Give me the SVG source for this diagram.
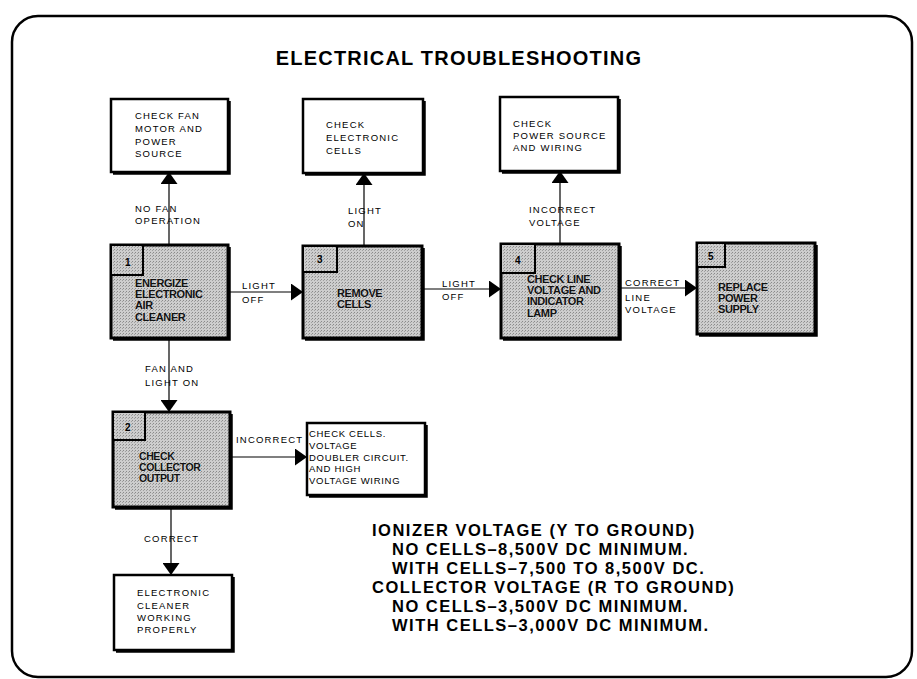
<svg xmlns="http://www.w3.org/2000/svg" width="917" height="679" viewBox="0 0 917 679">
<defs>
<style>
.frame{fill:none;stroke:#000;stroke-width:2.5}
.wbox{fill:#fff;stroke:#000;stroke-width:2.5}
.gbox{fill:url(#dots);stroke:#000;stroke-width:3}
.nbox{fill:url(#dots);stroke:#000;stroke-width:2}
.shadow{fill:none;stroke:#000;stroke-width:2.5}
.conn{fill:none;stroke:#000;stroke-width:1.2}
.t{font-family:"Liberation Sans",Arial,sans-serif;font-size:9.5px;letter-spacing:1.2px;fill:#000}
.b{font-family:"Liberation Sans",Arial,sans-serif;font-size:11px;font-weight:bold;letter-spacing:-0.4px;fill:#111;stroke:#e8e8e8;stroke-width:0.4;paint-order:stroke}
.n{font-family:"Liberation Sans",Arial,sans-serif;font-size:10px;font-weight:bold;fill:#000}
.title{font-family:"Liberation Sans",Arial,sans-serif;font-size:20px;font-weight:bold;letter-spacing:1.2px;fill:#000}
.note{font-family:"Liberation Sans",Arial,sans-serif;font-size:16.5px;font-weight:bold;letter-spacing:1.5px;fill:#000}
</style>
<pattern id="dots" width="3" height="3" patternUnits="userSpaceOnUse">
<rect width="3" height="3" fill="#cdcdcd"/>
<rect x="0" y="0" width="1" height="1" fill="#8a8a8a"/>
<rect x="2" y="1" width="1" height="1" fill="#a0a0a0"/>
</pattern>
<marker id="av" viewBox="0 0 10 10" refX="10" refY="5" markerWidth="12" markerHeight="17" markerUnits="userSpaceOnUse" orient="auto" preserveAspectRatio="none">
<path d="M0,0 L10,5 L0,10 Z" fill="#000"/>
</marker>
</defs>
<rect width="917" height="679" fill="#fff"/>
<rect class="frame" x="12" y="16" width="900" height="661" rx="26" ry="26"/>
<text class="title" x="459" y="65" text-anchor="middle">ELECTRICAL TROUBLESHOOTING</text>

<g id="connectors">
<path class="conn" d="M169,245 V172" marker-end="url(#av)"/>
<path class="conn" d="M364,246 V173" marker-end="url(#av)"/>
<path class="conn" d="M560,244 V171" marker-end="url(#av)"/>
<path class="conn" d="M228,292 H303" marker-end="url(#av)"/>
<path class="conn" d="M422,289 H501" marker-end="url(#av)"/>
<path class="conn" d="M619,288 H697" marker-end="url(#av)"/>
<path class="conn" d="M169,338 V412" marker-end="url(#av)"/>
<path class="conn" d="M230,457 H307" marker-end="url(#av)"/>
<path class="conn" d="M171,507 V575" marker-end="url(#av)"/>
<text class="t" x="135" y="212">NO FAN</text>
<text class="t" x="135" y="224">OPERATION</text>
<text class="t" x="348" y="214">LIGHT</text>
<text class="t" x="348" y="227">ON</text>
<text class="t" x="529" y="213">INCORRECT</text>
<text class="t" x="529" y="226">VOLTAGE</text>
<text class="t" x="242" y="289">LIGHT</text>
<text class="t" x="242" y="303">OFF</text>
<text class="t" x="442" y="287">LIGHT</text>
<text class="t" x="442" y="300">OFF</text>
<text class="t" x="625" y="286">CORRECT</text>
<text class="t" x="625" y="301">LINE</text>
<text class="t" x="625" y="313">VOLTAGE</text>
<text class="t" x="145" y="372">FAN AND</text>
<text class="t" x="145" y="386">LIGHT ON</text>
<text class="t" x="236" y="443">INCORRECT</text>
<text class="t" x="144" y="542">CORRECT</text>
</g>

<g id="check-fan">
<rect class="wbox" x="111" y="99" width="117" height="73"/>
<path class="shadow" d="M113,173.5 H229.5 V101"/>
<text class="t" x="135" y="119">CHECK FAN</text>
<text class="t" x="135" y="132">MOTOR AND</text>
<text class="t" x="135" y="145">POWER</text>
<text class="t" x="135" y="157">SOURCE</text>
</g>

<g id="check-cells">
<rect class="wbox" x="303" y="99" width="120" height="74"/>
<path class="shadow" d="M305,174.5 H424.5 V101"/>
<text class="t" x="326" y="128">CHECK</text>
<text class="t" x="326" y="141">ELECTRONIC</text>
<text class="t" x="326" y="154">CELLS</text>
</g>

<g id="check-power">
<rect class="wbox" x="500" y="97" width="118" height="74"/>
<path class="shadow" d="M502,172.5 H619.5 V99"/>
<text class="t" x="513" y="127">CHECK</text>
<text class="t" x="513" y="139">POWER SOURCE</text>
<text class="t" x="513" y="151">AND WIRING</text>
</g>

<g id="step1">
<rect class="gbox" x="111" y="245" width="117" height="93"/>
<path class="shadow" d="M113,339.5 H229.5 V247"/>
<rect class="nbox" x="111" y="245" width="32" height="30"/>
<text class="n" x="125" y="266">1</text>
<text class="b" x="135" y="287">ENERGIZE</text>
<text class="b" x="135" y="298">ELECTRONIC</text>
<text class="b" x="135" y="309">AIR</text>
<text class="b" x="135" y="321">CLEANER</text>
</g>

<g id="step3">
<rect class="gbox" x="303" y="246" width="119" height="92"/>
<path class="shadow" d="M305,339.5 H423.5 V248"/>
<rect class="nbox" x="303" y="246" width="34" height="26"/>
<text class="n" x="317" y="263">3</text>
<text class="b" x="337" y="297">REMOVE</text>
<text class="b" x="337" y="308">CELLS</text>
</g>

<g id="step4">
<rect class="gbox" x="501" y="244" width="118" height="94"/>
<path class="shadow" d="M503,339.5 H620.5 V246"/>
<rect class="nbox" x="501" y="244" width="34" height="29"/>
<text class="n" x="515" y="264">4</text>
<text class="b" x="527" y="283">CHECK LINE</text>
<text class="b" x="527" y="294">VOLTAGE AND</text>
<text class="b" x="527" y="305">INDICATOR</text>
<text class="b" x="527" y="317">LAMP</text>
</g>

<g id="step5">
<rect class="gbox" x="697" y="243" width="118" height="91"/>
<path class="shadow" d="M699,335.5 H816.5 V245"/>
<rect class="nbox" x="697" y="243" width="28" height="24"/>
<text class="n" x="708" y="260">5</text>
<text class="b" x="718" y="291">REPLACE</text>
<text class="b" x="718" y="302">POWER</text>
<text class="b" x="718" y="313">SUPPLY</text>
</g>

<g id="step2">
<rect class="gbox" x="113" y="412" width="117" height="95"/>
<path class="shadow" d="M115,508.5 H231.5 V414"/>
<rect class="nbox" x="113" y="412" width="32" height="28"/>
<text class="n" x="125" y="431">2</text>
<text class="b" x="139" y="460" style="font-size:10.5px">CHECK</text>
<text class="b" x="139" y="471" style="font-size:10.5px">COLLECTOR</text>
<text class="b" x="139" y="482" style="font-size:10.5px">OUTPUT</text>
</g>

<g id="check-doubler">
<rect class="wbox" x="307" y="423" width="118" height="72"/>
<path class="shadow" d="M309,496.5 H426.5 V425"/>
<text class="t" x="309" y="437" style="letter-spacing:0.7px">CHECK CELLS.</text>
<text class="t" x="309" y="449" style="letter-spacing:0.7px">VOLTAGE</text>
<text class="t" x="309" y="461" style="letter-spacing:0.7px">DOUBLER CIRCUIT.</text>
<text class="t" x="309" y="472" style="letter-spacing:0.7px">AND HIGH</text>
<text class="t" x="309" y="484" style="letter-spacing:0.7px">VOLTAGE WIRING</text>
</g>

<g id="working">
<rect class="wbox" x="114" y="575" width="118" height="75"/>
<path class="shadow" d="M116,651.5 H233.5 V577"/>
<text class="t" x="137" y="596">ELECTRONIC</text>
<text class="t" x="137" y="609">CLEANER</text>
<text class="t" x="137" y="621">WORKING</text>
<text class="t" x="137" y="633">PROPERLY</text>
</g>

<g id="voltage-notes">
<text class="note" x="372" y="536">IONIZER VOLTAGE (Y TO GROUND)</text>
<text class="note" x="392" y="555">NO CELLS–8,500V DC MINIMUM.</text>
<text class="note" x="392" y="574">WITH CELLS–7,500 TO 8,500V DC.</text>
<text class="note" x="372" y="593">COLLECTOR VOLTAGE (R TO GROUND)</text>
<text class="note" x="392" y="612">NO CELLS–3,500V DC MINIMUM.</text>
<text class="note" x="392" y="631">WITH CELLS–3,000V DC MINIMUM.</text>
</g>
</svg>
